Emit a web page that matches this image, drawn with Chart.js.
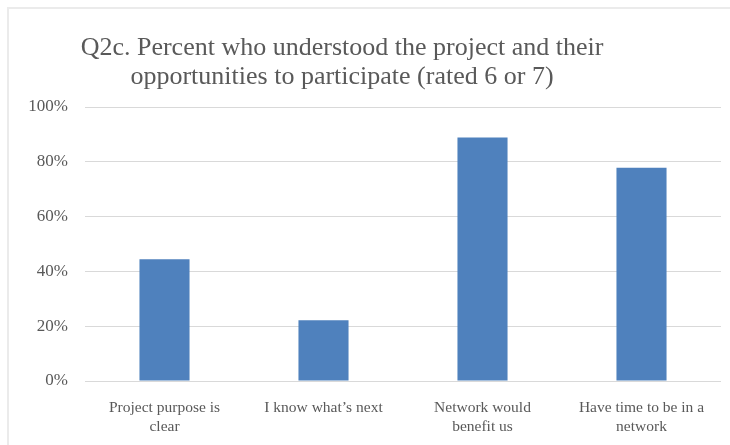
<!DOCTYPE html>
<html>
<head>
<meta charset="utf-8">
<script src="https://cdn.jsdelivr.net/npm/chart.js@4"></script>
<style>
  html, body { margin: 0; padding: 0; background: #fff; }
  #wrap { position: relative; width: 730px; height: 445px; }
</style>
</head>
<body>
<div id="wrap"><canvas id="understoodChart" width="730" height="445"></canvas></div>
<script>
// Q2c results (share of respondents rating 6 or 7)
const categories = [
    ['Project purpose is', 'clear'],
    "I know what\u2019s next",
    ['Network would', 'benefit us'],
    ['Have time to be in a', 'network']
];
const percentRated67 = [44.4, 22.2, 88.9, 77.8];
const yTicks = [0, 20, 40, 60, 80, 100];
const titleLines = [
    'Q2c. Percent who understood the project and their',
    'opportunities to participate (rated 6 or 7)'
];

const FONT = "'Liberation Serif', 'DejaVu Serif', serif";
const GREY = '#595959';

// frame + two-line title drawn on the canvas
const frameAndTitle = {
    id: 'frameAndTitle',
    beforeDraw(chart) {
        const c = chart.ctx;
        c.save();
        c.strokeStyle = '#ebebeb';
        c.lineWidth = 2;
        c.beginPath();
        c.moveTo(8, chart.height);
        c.lineTo(8, 8);
        c.lineTo(chart.width, 8);
        c.stroke();
        c.restore();
    },
    afterDraw(chart) {
        const c = chart.ctx;
        c.save();
        c.font = '26px ' + FONT;
        c.fillStyle = GREY;
        c.textAlign = 'center';
        c.textBaseline = 'middle';
        c.fillText(titleLines[0], 342, 48);
        c.fillText(titleLines[1], 342, 77);
        c.restore();
    }
};

const ctx = document.getElementById('understoodChart').getContext('2d');
new Chart(ctx, {
    type: 'bar',
    data: {
        labels: categories,
        datasets: [{
            label: 'Percent',
            data: percentRated67,
            backgroundColor: '#4f81bd',
            borderWidth: 0,
            categoryPercentage: 1,
            barPercentage: 0.315
        }]
    },
    options: {
        responsive: false,
        animation: false,
        layout: { padding: { top: 107, left: 25, right: 9, bottom: 8 } },
        plugins: {
            legend: { display: false },
            title: { display: false },
            tooltip: { enabled: false }
        },
        scales: {
            x: {
                grid: { display: false },
                border: { display: false },
                ticks: {
                    color: GREY,
                    font: { family: FONT, size: 15.5 },
                    padding: 10,
                    maxRotation: 0,
                    autoSkip: false
                },
                afterFit(scale) { scale.height = 56; }
            },
            y: {
                min: 0,
                max: 100,
                afterBuildTicks(scale) { scale.ticks = yTicks.map(v => ({ value: v })); },
                grid: { color: '#d9d9d9', lineWidth: 1, drawTicks: false },
                border: { display: false },
                ticks: {
                    color: GREY,
                    font: { family: FONT, size: 17 },
                    padding: 17,
                    callback: v => v + '%'
                },
                afterFit(scale) { scale.width = 60; }
            }
        }
    },
    plugins: [frameAndTitle]
});
</script>
</body>
</html>
